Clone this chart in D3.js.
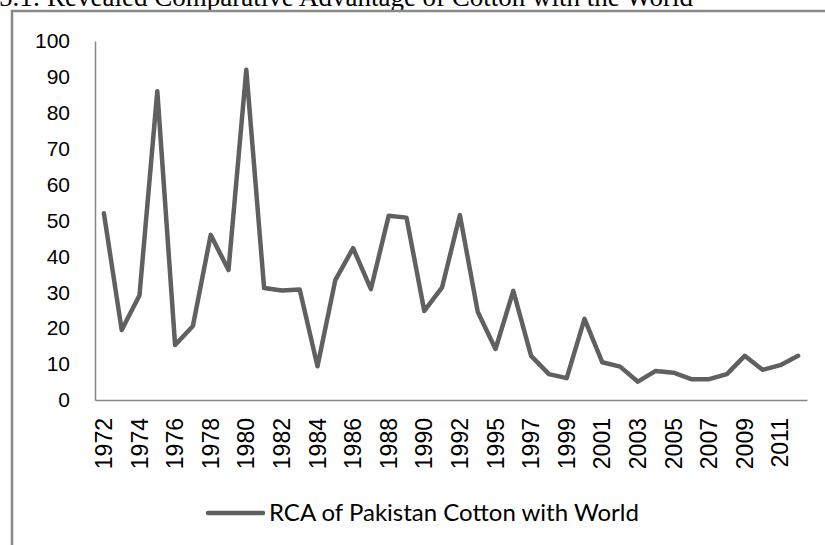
<!DOCTYPE html>
<html>
<head>
<meta charset="utf-8">
<script src="https://cdn.jsdelivr.net/npm/d3@7"></script>
<style>
  body { margin: 0; background: #fff; }
  svg { display: block; }
</style>
</head>
<body>
<div id="chart"></div>
<script>
// years on the category axis (one year between 1992 and 1995 is skipped in the source)
const years = [1972, 1973, 1974, 1975, 1976, 1977, 1978, 1979, 1980, 1981,
  1982, 1983, 1984, 1985, 1986, 1987, 1988, 1989, 1990, 1991,
  1992, 1994, 1995, 1996, 1997, 1998, 1999, 2000, 2001, 2002,
  2003, 2004, 2005, 2006, 2007, 2008, 2009, 2010, 2011, 2012];

// RCA values
const rca = [52, 19.5, 29.2, 86, 15.3, 20.6, 46, 36.2, 92, 31.2,
  30.5, 30.8, 9.4, 33.4, 42.3, 30.9, 51.3, 50.8, 24.8, 31.4,
  51.5, 24.6, 14.2, 30.4, 12.3, 7.2, 6.1, 22.6, 10.5, 9.3,
  5.1, 8.1, 7.6, 5.8, 5.8, 7.2, 12.3, 8.4, 9.7, 12.3];

const yTicks = [0, 10, 20, 30, 40, 50, 60, 70, 80, 90, 100];
const seriesName = "RCA of Pakistan Cotton with World";
const title = "5.1: Revealed Comparative Advantage of Cotton with the World";

const width = 825, height = 545;
const plot = { left: 95, right: 807, top: 41, bottom: 400 };

const svg = d3.select("#chart").append("svg")
  .attr("width", width)
  .attr("height", height);

// title, cut off at the top edge like the scan
svg.append("text")
  .attr("x", -1)
  .attr("y", 6)
  .style("font-family", "Liberation Serif, Times New Roman, serif")
  .style("font-size", "27px")
  .style("fill", "#000")
  .text(title);

// outer chart frame (runs off the right and bottom)
svg.append("path")
  .attr("d", `M12,${height + 5} L12,11 L${width + 5},11`)
  .style("fill", "none")
  .style("stroke", "#8a8a8a")
  .style("stroke-width", 2.5);

const x = d3.scaleBand()
  .domain(years)
  .range([plot.left, plot.right]);

const y = d3.scaleLinear()
  .domain([0, 100])
  .range([plot.bottom, plot.top]);

// y axis
const yAxis = svg.append("g")
  .attr("transform", `translate(${plot.left},0)`)
  .call(d3.axisLeft(y).tickValues(yTicks).tickSize(0).tickPadding(25));
yAxis.select(".domain").style("stroke", "#868686").style("stroke-width", 1.5);
yAxis.selectAll("text")
  .style("font-family", "Liberation Sans, Arial, sans-serif")
  .style("font-size", "21px")
  .style("fill", "#000");

// x axis, every other year labelled, rotated
const xAxis = svg.append("g")
  .attr("transform", `translate(0,${plot.bottom})`)
  .call(d3.axisBottom(x)
    .tickValues(years.filter((d, i) => i % 2 === 0))
    .tickSize(0));
xAxis.select(".domain").style("stroke", "#868686").style("stroke-width", 1.5);
xAxis.selectAll("text")
  .attr("transform", "rotate(-90)")
  .attr("x", -18)
  .attr("y", 0)
  .attr("dy", "0.35em")
  .style("text-anchor", "end")
  .style("font-family", "Liberation Sans, Arial, sans-serif")
  .style("font-size", "23px")
  .style("fill", "#000");

// series line
const line = d3.line()
  .x((d, i) => x(years[i]) + x.bandwidth() / 2)
  .y(d => y(d));

svg.append("path")
  .datum(rca)
  .attr("d", line)
  .style("fill", "none")
  .style("stroke", "#606060")
  .style("stroke-width", 4.5)
  .style("stroke-linejoin", "round")
  .style("stroke-linecap", "round");

// legend
const legend = svg.append("g").attr("transform", "translate(208,513)");
legend.append("line")
  .attr("x1", 0).attr("x2", 55)
  .style("stroke", "#606060")
  .style("stroke-width", 4.5)
  .style("stroke-linecap", "round");
legend.append("text")
  .attr("x", 61)
  .attr("y", 8)
  .style("font-family", "Lato, Open Sans, sans-serif")
  .style("font-size", "24px")
  .style("fill", "#000")
  .text(seriesName);
</script>
</body>
</html>
